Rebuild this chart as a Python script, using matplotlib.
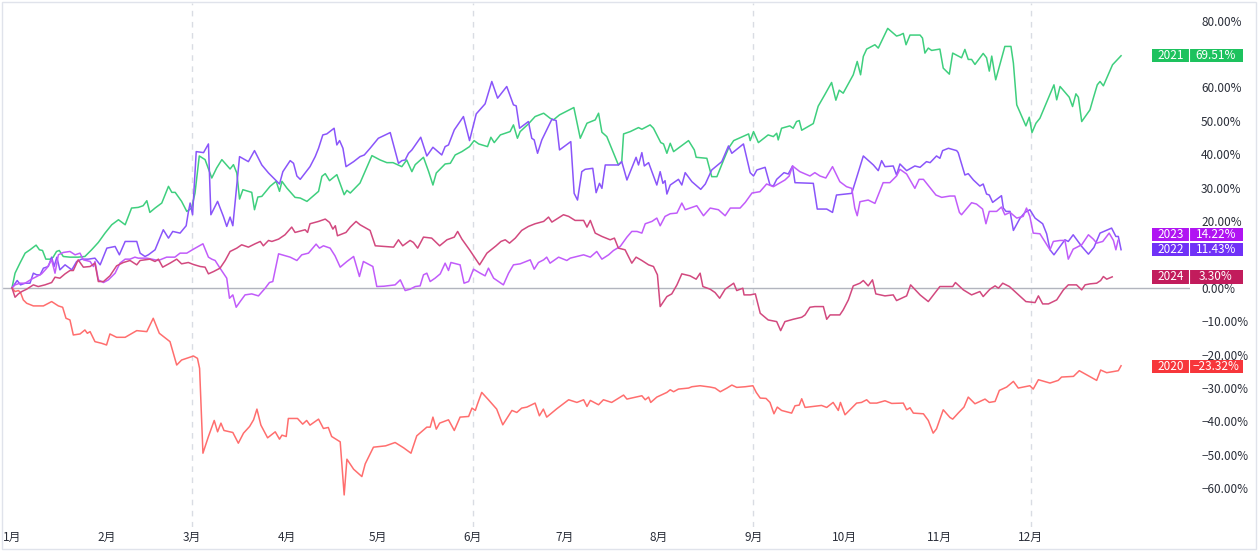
"""Seasonal performance chart (2020-2024), TradingView style."""

import matplotlib
matplotlib.use("Agg")
import matplotlib.pyplot as plt
from matplotlib.patches import Rectangle
from matplotlib.ticker import FixedLocator, FuncFormatter
import matplotlib.transforms as mtransforms

plt.rcParams["font.family"] = ["Noto Sans CJK SC", "DejaVu Sans"]

# x = day of year (Jan 1 = 0), y = % change since the start of the year
month_days = [0, 31, 59, 90, 120, 151, 181, 212, 243, 273, 304, 334]
month_labels = ["1月", "2月", "3月", "4月", "5月", "6月", "7月", "8月", "9月", "10月", "11月", "12月"]
quarter_days = [59, 151, 243, 334]
# 70% and 10% are hidden behind the price tags in the original
y_ticks = [-60, -50, -40, -30, -20, -10, 0, 20, 30, 40, 50, 60, 80]

years = ["2020", "2021", "2022", "2023", "2024"]
final_values = [-23.32, 69.51, 11.43, 14.22, 3.30]

y2020 = [(0, 0), (1, -1.1), (2.1, -0.8), (2.8, -1.4), (3.7, -3.6), (4.8, -4.6), (7, -5.4), (10.3, -5.4),
         (13, -4.1), (15.2, -5.4), (16.6, -5.8), (17.7, -9.1), (19, -9.6), (20.1, -14.1), (22.3, -13.8),
         (23.9, -12.6), (24.7, -13.6), (25.6, -13.1), (27.2, -16.1), (29.4, -16.6), (31, -17.1),
         (32.1, -13.8), (34.3, -14.8), (37.1, -14.8), (40.9, -12.8), (44.2, -13.1), (46.3, -9.1),
         (48.3, -13.6), (51.8, -16.1), (54, -23.1), (55.6, -21.6), (59.5, -20.4), (60.8, -21.1),
         (61.5, -24.1), (62.6, -49.5), (64.4, -44.5), (66.3, -39.7), (67.4, -43.1), (68.5, -40.5),
         (69.5, -42.7), (72.4, -43.3), (74.2, -46.5), (75.9, -43.5), (77.9, -41.5), (79.2, -39.5),
         (80.3, -36.3), (81.6, -41.1), (83.8, -44.9), (86.3, -43.1), (87.7, -45.3), (88.5, -44.1),
         (89.9, -44.5), (90.6, -39.1), (93.6, -39.1), (95.3, -40.8), (96.6, -39.7), (97.7, -41.1),
         (100.5, -39.3), (102.1, -42.1), (103.7, -41.8), (104.8, -44.5), (107.6, -46.1), (108.9, -62),
         (109.8, -51.3), (112, -54.3), (114.7, -56.5), (115.8, -52.7), (118.5, -47.7), (122.5, -47.3),
         (125.6, -46.3), (128.4, -47.9), (130.8, -49.5), (132.7, -44.3), (136, -41.7), (137.1, -41.7),
         (138, -38.7), (139.1, -42.3), (140.2, -40.5), (143.1, -39.5), (145, -42.7), (146.9, -38.7),
         (149.7, -38.5), (150.8, -36), (151.9, -36.7), (152.6, -34.8), (154, -31.3), (156.2, -33.5),
         (158.9, -36.3), (160.9, -41), (163.9, -36.7), (165.5, -37.3), (167.1, -36), (168.8, -35.7),
         (171.5, -34.5), (172.9, -38.3), (174.2, -36.3), (175.3, -38.7), (178.6, -36.2), (182.5, -33.5),
         (185.2, -34.3), (187.4, -33.5), (188.5, -35.5), (189.6, -33.7), (192.3, -35.0), (193.9, -33.5),
         (196.6, -34.3), (200.5, -32.1), (201.6, -33.3), (206.5, -32.3), (207.6, -33.5), (208.7, -32.7),
         (209.4, -34.3), (211.4, -32.7), (214.7, -31.3), (215.8, -30.5), (216.9, -31.1), (218.5, -30.3),
         (221.8, -30), (222.9, -29.6), (225.6, -29.3), (228.9, -29.7), (230.5, -30), (232.2, -31.1),
         (234.4, -30), (236, -29.1), (237.6, -29.8), (240.4, -29.6), (242.9, -29.3), (244, -31.3),
         (245.3, -33), (247.2, -33.1), (248.5, -34.3), (249.8, -37.7), (250.9, -35.7), (252.3, -36.7),
         (255.6, -37.5), (256.7, -35.3), (258.1, -35.1), (258.9, -33.2), (260, -35.8), (265.4, -35.2),
         (267.1, -35.8), (269.2, -34.3), (270.9, -36.7), (271.6, -34.3), (273.1, -38), (276.9, -34.5),
         (278.5, -34.3), (280.2, -33.5), (281.3, -34.5), (283.5, -34.5), (286.2, -33.8), (288.4, -34.6),
         (292.2, -34.5), (293.3, -36.5), (294.4, -35.9), (295.5, -37.5), (298.8, -37.7), (300.4, -39.7),
         (302, -43.5), (303.1, -42.2), (305.3, -36.5), (307.5, -38.8), (308.4, -39.3), (310.2, -37.5),
         (312.1, -35.7), (313.5, -32.7), (315.7, -34.7), (319, -33.3), (320.4, -34.3), (322.3, -34),
         (323.7, -30.7), (326.1, -29.7), (328.3, -28), (329.9, -30), (333.7, -29.3), (334.8, -30.3),
         (336.5, -27.5), (340.3, -28.5), (343, -27.7), (344.1, -26.7), (348, -26.5), (349.9, -24.8),
         (355.6, -27.7), (356.9, -24.6), (358.9, -25.4), (362.7, -24.8), (363.6, -23.32)]

y2021 = [(0, 0), (1, 4.4), (2.6, 7.4), (4.3, 10.4), (5.9, 11.4), (7.9, 12.8), (9, 11.4), (10, 11.2),
         (11.1, 8.6), (12.5, 8.6), (13.5, 9.2), (14.6, 10.9), (15.5, 11.2), (16.8, 9.4), (19, 9.2),
         (21.7, 9.2), (23.9, 9.4), (26.1, 11.4), (28.3, 13.6), (30.5, 16.4), (32.7, 18.9), (34.9, 20.4),
         (37.1, 18.9), (39.2, 23.9), (41.4, 24.1), (43, 24.6), (44.2, 26.1), (45.2, 22.6), (46.9, 23.9),
         (49.1, 25.4), (51.3, 30.4), (52.4, 28.6), (53.5, 28.6), (55.6, 25.9), (57.3, 22.9), (58.9, 23.9),
         (60, 28.4), (61.4, 39.5), (63.3, 38.4), (65.5, 32.9), (67.1, 35.9), (68.8, 38.4), (71.5, 35.6),
         (72.6, 36.9), (73.7, 34.4), (74.6, 26.6), (75.7, 29.4), (78.6, 28.6), (79.5, 23.4), (80.6, 27.2),
         (81.9, 27.4), (84.6, 30.4), (86.6, 31.9), (87.7, 28.9), (88.5, 31.9), (90.1, 29.9), (92.8, 27.1),
         (94.5, 26.9), (96.7, 25.9), (100.5, 28.9), (101.6, 33.4), (102.7, 34.2), (104.1, 32.1),
         (106.5, 33.9), (107.9, 30.4), (108.9, 27.9), (109.8, 29.2), (110.9, 28.4), (114.1, 31.4),
         (118, 39.6), (120.7, 38.3), (122.9, 37.5), (124.9, 37.5), (127.8, 36.3), (129.4, 38.3),
         (131.1, 34.8), (132.2, 36.9), (134.9, 39.1), (136.6, 34.8), (138, 30.8), (139.1, 34.4),
         (142, 37.1), (143.7, 37.3), (145.3, 39.8), (147.5, 40.8), (150, 42.3), (151.5, 44.1), (153, 43.1),
         (155.9, 42.3), (157, 45.1), (158.1, 43.5), (160.1, 45.8), (163.3, 46.8), (164.4, 48.8),
         (165.7, 44.8), (166.6, 46.8), (169.3, 49.1), (171.5, 51.3), (174.3, 52.3), (176.4, 50.8),
         (177.5, 50.3), (179.5, 51.8), (184.2, 54.0), (186.3, 44.8), (188.5, 49.3), (191.2, 50.3),
         (192.3, 52.3), (193.4, 46.6), (195, 45.3), (198.8, 36.8), (199.9, 37.8), (200.5, 46.1),
         (202.7, 46.8), (205.4, 48), (206.5, 47.5), (209.2, 48.8), (210.3, 47.8), (212.7, 43.5),
         (213.6, 43.1), (214.7, 40.3), (215.8, 43.3), (216.9, 40.8), (221.8, 44.1), (223.7, 41.3),
         (224.3, 39.1), (227.8, 38.8), (229.4, 33.3), (231.1, 33.3), (233.3, 38.3), (234.9, 41.8),
         (236.6, 44.1), (241.5, 46.1), (242, 44.1), (243.1, 46.8), (244.7, 43.5), (247.9, 45.8),
         (249.6, 45.3), (250.7, 46.3), (251.2, 44.3), (252.3, 47.8), (255, 48.5), (256.1, 47.8),
         (257.2, 49.8), (258.1, 50.1), (258.9, 47.2), (262.7, 49.2), (264.3, 54.4), (266.5, 57.9),
         (268.7, 61.5), (270.1, 56.2), (271.2, 59.2), (272.5, 58.3), (275.8, 63.8), (277.1, 67.8),
         (278.2, 63.8), (279.1, 69.3), (280.2, 71.5), (282.9, 72.8), (284, 71.8), (287.1, 77.7),
         (290, 75.4), (291.1, 75.7), (292.2, 76.2), (293.1, 72.8), (294.4, 75.7), (297.7, 75.7),
         (298.5, 74.8), (299.3, 70.3), (300.4, 71.8), (301.5, 71.1), (304.2, 71.5), (305.3, 65.8),
         (307.3, 64.0), (308.4, 70.3), (311.3, 68.9), (312.4, 71.4), (313.5, 68.4), (314.6, 68.4),
         (315.7, 66.9), (318.4, 70.2), (319.5, 68.9), (320.4, 64.9), (321.2, 69.4), (322.5, 62.3),
         (325.5, 72.3), (327.5, 72.3), (328.3, 67.3), (329.4, 54.8), (332.4, 48.5), (333.5, 51.1),
         (334.4, 46.5), (335.7, 49.3), (337, 50.8), (341.6, 60.8), (342.5, 56.3), (343.6, 60.3),
         (346.6, 57.1), (347.7, 54.3), (348.8, 58.1), (349.6, 57.1), (350.7, 49.8), (353.4, 53.3),
         (354.5, 56.8), (355.8, 60.8), (356.7, 61.8), (357.8, 60.5), (360.8, 66.8), (363.6, 69.51)]

y2022 = [(0, 0), (0.7, 0.9), (1.7, 2.2), (2.8, 0.9), (4.3, 1.4), (5.9, 1.4), (7, 4.4), (8.1, 3.9),
         (9.2, 3.9), (10.3, 5.9), (11.9, 6.4), (13, 9.2), (13.8, 6.4), (14.7, 9.2), (15.7, 5.4),
         (17.4, 6.9), (19.6, 5.4), (21.2, 7.9), (22.8, 8.6), (25, 8.6), (27.2, 8.9), (28.9, 6.9),
         (31.1, 11.9), (33.8, 12.4), (35.2, 9.9), (37.1, 13.9), (40.9, 13.9), (42, 10.4), (43.6, 9.4),
         (44.7, 9.9), (46.9, 11.4), (49.6, 17.4), (51.3, 14.9), (52.7, 16.9), (55.1, 16.4), (57.1, 18.6),
         (57.8, 22.6), (58.4, 25.4), (59.2, 21.9), (60.4, 40.8), (62.8, 40.5), (64.4, 43.1), (65.2, 21.9),
         (67.4, 25.9), (69.3, 21.4), (70.4, 18.4), (71.5, 21.2), (72.4, 18.6), (74.6, 39.3), (77.5, 37.8),
         (79.5, 41.1), (81.9, 36.8), (84.1, 34.4), (86.6, 32.1), (87.7, 31.1), (88.8, 34.8), (91.2, 38.1),
         (92.3, 37.3), (93.4, 33.5), (94.5, 32.5), (97.7, 36.3), (99.4, 39.3), (100.5, 41.8),
         (101.9, 45.8), (103.2, 46.1), (105.6, 47.8), (106.5, 42.8), (107.4, 44.1), (108.5, 41.8),
         (109.5, 36.3), (112, 37.8), (114.1, 39.3), (115.5, 39.8), (117.4, 41.8), (120.1, 44.8),
         (124, 46.5), (126.7, 37.3), (127.8, 38.1), (128.9, 38.3), (130, 40.3), (131.1, 41.3),
         (134, 45.1), (136, 39.5), (138, 42.1), (140.9, 39.8), (142, 42.3), (143.1, 42.8), (145, 47.3),
         (148, 51.3), (150, 44.1), (152.2, 52.1), (155.1, 55.1), (157.3, 61.8), (159.2, 56.8),
         (162.2, 60.3), (164.4, 54.8), (165.3, 54.5), (166.4, 47.8), (169.3, 49.8), (170.4, 44.8),
         (171.2, 44.3), (172.3, 40.3), (173.7, 44.3), (177, 50.5), (178.4, 50.1), (179.5, 41.3),
         (183.2, 43.8), (184.3, 28.3), (185.4, 26.3), (186.8, 34.8), (187.9, 35.5), (190.4, 35.8),
         (191.5, 28.5), (192.6, 31.3), (193.4, 29.8), (194.5, 36.8), (198.8, 36.8), (199.9, 37.8),
         (201.6, 32.3), (204.6, 39.1), (205.4, 36.8), (206.5, 40.5), (207.3, 36.5), (208.7, 37.5),
         (211.4, 30.8), (212.5, 34.8), (213.4, 31.3), (214.1, 32.1), (214.7, 28.1), (215.8, 30.8),
         (218.5, 32.5), (219.6, 30.8), (220.7, 34.5), (222.9, 31.8), (225.8, 29.5), (227.3, 31.1),
         (229.4, 35.3), (232.7, 37.8), (234.9, 42.5), (236, 40.3), (239.8, 43.1), (242, 34.5),
         (243.1, 33.5), (244.2, 35.3), (246.9, 36.1), (248.5, 30.8), (249.6, 30.5), (250.7, 32.5),
         (253.1, 34.5), (254.5, 34.1), (255.9, 36.5), (256.7, 31.5), (262.7, 31.3), (264, 23.6),
         (267.1, 23.6), (269, 22.6), (270.3, 27.8), (275.3, 28.3), (279.1, 39.5), (282.4, 36.8),
         (284, 35.1), (285.1, 38.1), (286.2, 36.3), (288.9, 36.5), (290, 33.8), (291.1, 37.1),
         (293.3, 35.1), (296, 36.5), (297.7, 36.1), (299.8, 37.8), (301, 37.5), (303.1, 39.5),
         (304.2, 38.8), (305.1, 41.1), (307, 41.8), (309.7, 41.1), (310.2, 40.5), (312.4, 33.8),
         (313.5, 34.2), (315.2, 32.3), (317.3, 30.5), (318.4, 31.1), (319.5, 28.1), (320.4, 27.8),
         (321.5, 25.6), (324.4, 27.6), (325, 23.9), (325.9, 22.9), (327.2, 22.9), (328.3, 17.2),
         (330.5, 20.9), (332.1, 22.6), (333.7, 23.4), (335.4, 20.9), (337.9, 19.2), (339.2, 16.2),
         (340.3, 11.4), (341.6, 9.9), (343.6, 12.4), (345.2, 14.4), (346.3, 13.9), (347.9, 15.9),
         (350.7, 12.4), (352.9, 10.1), (354.7, 12.1), (356.7, 16.4), (360.5, 17.9), (361.9, 15.4),
         (362.7, 15.4), (363.6, 11.43)]

y2023 = [(0, 0), (1, 0.9), (2.6, 1.4), (4.3, 1.4), (6.4, 2.6), (8.1, 3.4), (9.7, 4.2), (11.4, 5.9),
         (13, 8.4), (14.1, 4.4), (15.2, 9.9), (16.8, 10.6), (19, 10.9), (20.7, 9.9), (22.3, 10.4),
         (23.4, 8.4), (25.6, 7.9), (26.7, 6.4), (27.2, 7.9), (28.3, 2.4), (30, 1.6), (31.6, 2.4),
         (33.8, 4.4), (35.4, 7.4), (37.1, 8.6), (38.7, 8.6), (40.3, 9.2), (41.4, 8.9), (44.2, 8.9),
         (45.8, 8.6), (48, 8.2), (50.7, 9.2), (53.4, 9.2), (55.1, 10.4), (57.3, 10.4), (59.5, 11.6),
         (62.6, 13.2), (64.4, 9.2), (65.5, 8.6), (66.6, 8.2), (68.2, 5.9), (70.4, 2.9), (71.3, -3.1),
         (72.4, -2.1), (73.5, -5.8), (74.8, -4.1), (76.4, -2.1), (78.6, -1.8), (80.8, -2.4), (83, -0.1),
         (84.4, 1.6), (85.5, 1.9), (87.4, 10.2), (91.2, 9.2), (93.4, 8.2), (95, 9.9), (97.2, 10.4),
         (99.7, 13.1), (100.8, 11.9), (102.1, 12.6), (104.3, 11.9), (105.9, 9.6), (107.6, 6.2),
         (109.8, 7.9), (112, 9.4), (113.9, 3.4), (115.2, 7.9), (118.3, 6.4), (119.6, 0.4), (122, 0.5),
         (125.6, 0.9), (127.3, 2.4), (128.9, -0.8), (130.5, -0.4), (132.2, 0.4), (133.8, 0.6),
         (134.9, 3.9), (136, 4.4), (137.1, 1.9), (138.7, 2.9), (140.4, 4.2), (142, 7.4), (143.1, 5.2),
         (143.9, 7.6), (146.9, 6.9), (148.2, 1.4), (149.7, 1.9), (151.3, 5.6), (153.5, 4.4),
         (155.1, 3.6), (156.2, 5.9), (157.9, 2.9), (161.1, 0.9), (162.8, 4.4), (164.4, 6.9),
         (166.6, 7.2), (169.9, 8.4), (171.2, 5.6), (172.6, 7.6), (174.3, 8.4), (175.3, 9.2),
         (176.4, 7.4), (179.2, 9.2), (181.9, 8.2), (183, 8.9), (185.2, 9.4), (187.4, 9.9), (189.6, 9.2),
         (191.7, 10.9), (193.4, 8.6), (195.6, 9.9), (197.2, 11.2), (199.4, 12.4), (201.6, 15.2),
         (203.2, 16.9), (204.9, 16.9), (206.5, 16.4), (207.6, 19.2), (209.8, 19.9), (211.4, 20.9),
         (212.5, 18.6), (214.1, 21.4), (215.8, 22.2), (218, 22.4), (219.6, 25.4), (220.7, 23.4),
         (224.5, 24.6), (226.7, 21.6), (228.9, 23.9), (231.6, 23.4), (233.8, 21.6), (235.5, 23.9),
         (238.7, 23.9), (240.4, 25.6), (242.6, 28.4), (245.2, 28.8), (247.4, 31.1), (249.6, 30.3),
         (253.4, 32.3), (254.8, 33.5), (255.9, 36.5), (258.3, 34.8), (261.6, 33.5), (263.2, 34.5),
         (264.9, 33.5), (266.8, 32.9), (269, 36.3), (271.4, 31.8), (273.6, 30.3), (275.3, 29.8),
         (276.3, 23.9), (277.1, 21.6), (278, 25.8), (280.7, 26.3), (282.9, 25.3), (285.6, 31.5),
         (287.8, 31.5), (290, 33.5), (291.1, 35.5), (293.3, 34.1), (296, 29.8), (297.4, 32.5),
         (298.8, 32.5), (302.9, 27.8), (304.8, 27.1), (307.5, 27.5), (309.1, 27.5), (310.6, 22.6),
         (311.3, 21.9), (314.6, 25.5), (316.2, 25.1), (318.2, 23.6), (319.3, 19.2), (320.4, 22.9),
         (322.8, 22.9), (324.4, 24.2), (325.5, 21.9), (327.2, 22.6), (329.4, 20.9), (331.5, 21.4),
         (332.6, 23.9), (333.7, 21.4), (334.8, 16.4), (337, 16.2), (340.3, 11.4), (341.4, 13.9),
         (343.6, 14.2), (345.2, 14.2), (346.3, 8.6), (347.9, 11.6), (350.7, 12.9), (352.9, 15.9),
         (354.5, 14.6), (355.6, 13.4), (357.6, 13.9), (359.7, 16.4), (361.1, 14.2), (361.9, 11.4),
         (362.6, 14.22)]

y2024 = [(0, 0), (1, -2.8), (2.1, -1.8), (3.2, -1.1), (4.8, -0.4), (7, 0.9), (8.6, 0.4), (10.8, 0.9),
         (13, 1.6), (14.1, 3.2), (15.7, 2.9), (17.4, 4.2), (19, 5.2), (20.1, 5.2), (21.7, 8.4),
         (23.4, 6.2), (25.6, 6.4), (27.2, 7.4), (28.3, 1.9), (30, 1.9), (32.1, 3.6), (34.3, 6.6),
         (36.5, 7.6), (38.7, 8.2), (40.9, 6.9), (42, 8.2), (45.2, 8.6), (46.9, 7.9), (48, 8.6),
         (49.4, 6.2), (51.8, 7.4), (54, 8.6), (55.6, 7.2), (57.8, 7.6), (59.5, 7.0), (61.7, 6.4),
         (63.3, 6.2), (64.4, 4.2), (66.1, 4.9), (68.2, 5.9), (69.9, 8.2), (71.5, 10.9), (73.7, 11.9),
         (75.3, 12.9), (77.5, 12.2), (79.7, 13.2), (81.4, 13.9), (82.4, 12.6), (84.1, 14.2), (85.2, 13.9),
         (87.4, 14.6), (89.5, 15.9), (91.7, 18.2), (92.8, 16.6), (96.1, 17.4), (96.9, 16.6), (97.7, 19.2),
         (100.5, 19.9), (102.7, 20.6), (104.1, 19.6), (105.2, 17.6), (106, 18.6), (106.7, 15.6),
         (109.5, 16.6), (110.9, 18.2), (112.8, 19.9), (114.1, 18.9), (117.4, 17.2), (119.1, 12.6),
         (122, 12.4), (125.1, 12.2), (126.7, 14.4), (128.1, 12.6), (130.5, 14.2), (131.6, 13.6),
         (133, 11.9), (134.9, 15.2), (137.6, 14.9), (140.2, 12.6), (142.6, 14.4), (145, 15.2),
         (146.1, 16.9), (147.5, 14.6), (150, 11.4), (153.3, 6.9), (155.7, 10.4), (158.7, 12.6),
         (160.3, 13.9), (161.7, 14.4), (163.1, 13.4), (165, 14.9), (167.1, 17.2), (169.3, 18.4),
         (171.5, 19.2), (174.3, 19.9), (175.9, 21.2), (177, 19.7), (180.8, 21.9), (182.5, 21.4),
         (184.6, 20.2), (187.4, 20.2), (188.5, 18.2), (189.6, 20.2), (191.2, 16.4), (193.4, 15.4),
         (196.1, 14.4), (197.5, 14.9), (198.8, 11.9), (201, 11.4), (203.2, 7.4), (204.6, 9.2),
         (206.5, 8.2), (208.7, 6.9), (210.3, 6.4), (211.6, 3.9), (212.5, -5.6), (214.7, -2.6),
         (216.3, -1.8), (218, 0.9), (219.6, 4.2), (222.3, 3.6), (224.3, 2.6), (225.6, 4.4), (226.5, 0.4),
         (228.9, -0.4), (230.5, -1.4), (232, -3.1), (233.8, -0.4), (236.6, 1.4), (237.6, -0.8),
         (239.6, -0.1), (240, -2.1), (242, -2.1), (243.7, -1.8), (245.3, -7.6), (247.9, -9.6),
         (250.7, -10.1), (252, -12.8), (253.4, -10.1), (256.1, -9.4), (258.9, -8.8), (260, -8.1),
         (261.6, -5.8), (263.2, -5.6), (266, -5.6), (267.1, -9.4), (268.2, -8.1), (271.4, -8.1),
         (272.5, -6.6), (274.2, -3.6), (275.8, 0.6), (278, 1.4), (279.1, 2.2), (280.7, 0.6),
         (282.1, 2.4), (283.2, -1.8), (286.2, -2.4), (288.9, -2.1), (290, -3.8), (293.3, -2.4),
         (294.6, 0.9), (297.7, -2.1), (300.4, -4.1), (304.2, 0.4), (308.4, 0.4), (309.3, 1.6),
         (311.9, -0.6), (314.6, -2.1), (317.3, -1.1), (318.4, -2.6), (320.6, -0.4), (322.3, 0.6),
         (323.4, -0.1), (324.8, 1.4), (327, 0.4), (329.4, -1.6), (332.4, -4.1), (335.4, -4.4),
         (336.5, -2.4), (337.9, -4.8), (339.8, -4.8), (342.5, -3.6), (344.7, -0.6), (346.3, 0.9),
         (349, 0.9), (350.7, -0.6), (351.8, 0.9), (353.4, 1.2), (355.6, 1.4), (356.9, 2.2),
         (357.8, 3.4), (358.9, 2.6), (360.7, 3.30)]

series = [y2020, y2021, y2022, y2023, y2024]
line_colors = ["#FF6E6E", "#3FCF7E", "#8A55FA", "#C15CFA", "#D2497F"]
tag_colors = ["#F7363B", "#1DC25E", "#7031F7", "#B014F2", "#C21C5C"]
tag_nudge = [-0.3, 0.0, 0.0, 1.8, 0.0]  # keep 2022/2023 tags from overlapping

W, H = 1260, 553
fig = plt.figure(figsize=(W / 100, H / 100), dpi=100)
ax = fig.add_axes([3 / W, 26 / H, 1187 / W, 524 / H])
ax.set_xlim(-2.95, 386.2)
ax.set_ylim(-71.6, 85.3)

for d in quarter_days:
    ax.axvline(d, color="#D9DCE3", lw=1.0, ls=(0, (4, 4)), zorder=0)
ax.axhline(0, color="#B2B5BE", lw=1.0, zorder=1)

for pts, col in zip(series, line_colors):
    xs = [p[0] for p in pts]
    ys = [p[1] for p in pts]
    ax.plot(xs, ys, color=col, lw=1.1, zorder=3, solid_joinstyle="round")

for s in ax.spines.values():
    s.set_visible(False)

ax.xaxis.set_major_locator(FixedLocator(month_days))
ax.set_xticklabels(month_labels)
ax.tick_params(axis="x", length=0, pad=3, labelsize=8.5, colors="#2A2E39")

ax.yaxis.tick_right()
ax.yaxis.set_major_locator(FixedLocator(y_ticks))
ax.yaxis.set_major_formatter(FuncFormatter(lambda v, p: f"{v:.2f}%".replace("-", "\u2212")))
ax.tick_params(axis="y", length=0, pad=8, labelsize=8.5, colors="#2A2E39")
for lab in ax.get_yticklabels():
    lab.set_horizontalalignment("left")

# price tags on the right scale
trans = mtransforms.blended_transform_factory(fig.transFigure, ax.transData)
tag_h = 4.0
for name, val, col, nudge in zip(years, final_values, tag_colors, tag_nudge):
    yc = val + nudge
    x0, x1, x2 = 1152 / W, 1189 / W, 1243 / W
    ax.add_patch(Rectangle((x0, yc - tag_h / 2), x1 - x0, tag_h, transform=trans,
                           facecolor=col, edgecolor="none", clip_on=False, zorder=5))
    ax.add_patch(Rectangle((x1, yc - tag_h / 2), x2 - x1, tag_h, transform=trans,
                           facecolor=col, edgecolor="none", clip_on=False, zorder=5))
    ax.plot([x1, x1], [yc - tag_h / 2, yc + tag_h / 2], transform=trans, color="white",
            lw=0.8, clip_on=False, zorder=6)
    ax.text((x0 + x1) / 2, yc, name, transform=trans, ha="center", va="center",
            color="white", fontsize=8.5, clip_on=False, zorder=7)
    ax.text((x1 + x2) / 2, yc, f"{val:.2f}%".replace("-", "\u2212"), transform=trans,
            ha="center", va="center", color="white", fontsize=8.5, clip_on=False, zorder=7)

# outer frame of the widget
fig.patches.append(Rectangle((2 / W, 4 / H), 1254 / W, 547 / H, transform=fig.transFigure,
                             facecolor="none", edgecolor="#E0E3EB", lw=1.0))

fig.savefig("out.png", dpi=100, facecolor="white")
